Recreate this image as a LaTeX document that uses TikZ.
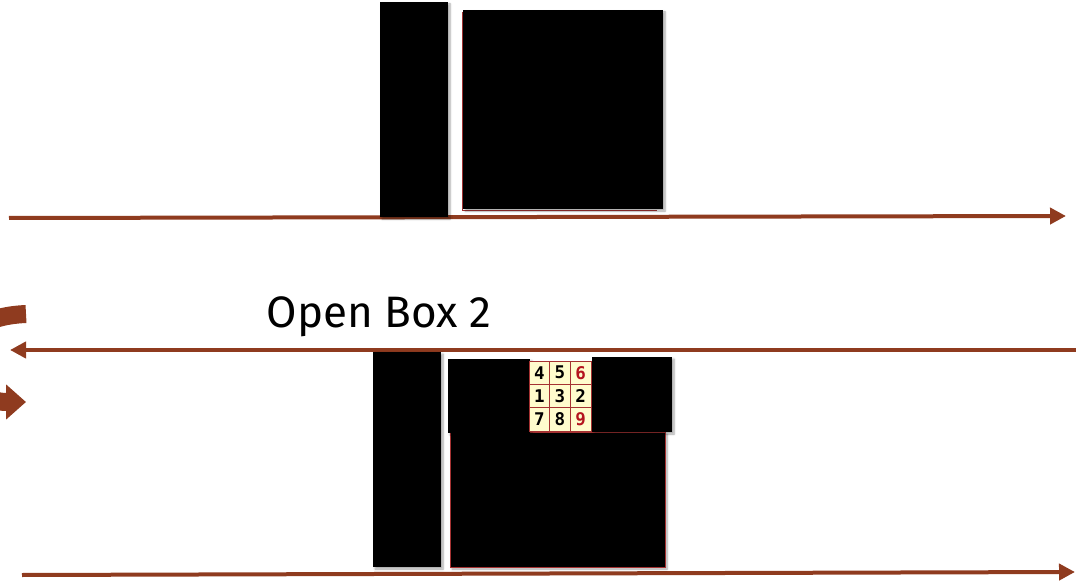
\documentclass[tikz,border=0pt]{standalone}
\usepackage{fontspec}
\setmainfont{Fira Sans}
\newfontfamily\gridfont{DejaVu Sans Mono}
\usetikzlibrary{arrows.meta, positioning, calc, shadows.blur}
\definecolor{timebrown}{RGB}{143,59,31}
\definecolor{gridred}  {RGB}{165,50,50}
\definecolor{gridfill} {RGB}{255,252,205}
\definecolor{numred}   {RGB}{180,20,30}

\begin{document}
\begin{tikzpicture}[x=1pt,y=-1pt,
	timeline/.style={draw=timebrown,line width=4pt,-{Triangle[length=16pt,width=16pt]}},
	blackbox/.style={fill=black,blur shadow={shadow xshift=2pt,shadow yshift=-2pt,shadow blur steps=6,shadow opacity=35}},
	cell/.style={draw=gridred,fill=gridfill,minimum width=20.7pt,minimum height=23.3pt,inner sep=0pt,
		font=\gridfont\bfseries\fontsize{17.5}{17.5}\selectfont}
	]
	\useasboundingbox (0,0) rectangle (1076,585);
	\clip (0,0) rectangle (1076,585);
	% time lines
	\coordinate (T0) at (9,218);    \coordinate (T1) at (1066,216);
	\coordinate (M0) at (1076,350); \coordinate (M1) at (10,350);
	\coordinate (B0) at (22,575);   \coordinate (B1) at (1075,572);
	\draw[timeline] (T0) -- (T1);
	\draw[timeline] (M0) -- (M1);
	\draw[timeline] (B0) -- (B1);
	% turn arrow at the left edge
	\coordinate (R0) at (26,314); \coordinate (R1) at (26,402);
	\draw[timebrown,line width=18pt,-{Triangle[length=20pt,width=34pt]}] (R0) .. controls (-70,318) and (-50,402) .. (R1);
	% top: closed boxes
	\fill[blackbox] (380,2) rectangle (448,217);
	\draw[gridred,thin] (462,12) -- (462,210) -- (657,210);
	\fill[blackbox] (463,10) rectangle (663,209);
	% bottom: box 2 opened
	\fill[blackbox] (373,352) rectangle (441,567);
	\fill[blackbox,draw=gridred,thin] (450,432) rectangle (665,567);
	\fill[blackbox] (448,359) rectangle (530,433);
	\fill[blackbox] (592,357) rectangle (672,432);
	\foreach \n/\c/\x/\y in {4/black/0/0,5/black/1/0,6/numred/2/0,
		1/black/0/1,3/black/1/1,2/black/2/1,
		7/black/0/2,8/black/1/2,9/numred/2/2}{
		\node[cell,text=\c] (g\n) at ({539.3+20.7*\x},{372.7+23.3*\y}) {\n};
	}
	\node[anchor=base,font=\fontsize{44}{52}\selectfont] (openlabel) at (379,327) {Open Box 2};
\end{tikzpicture}
\end{document}
